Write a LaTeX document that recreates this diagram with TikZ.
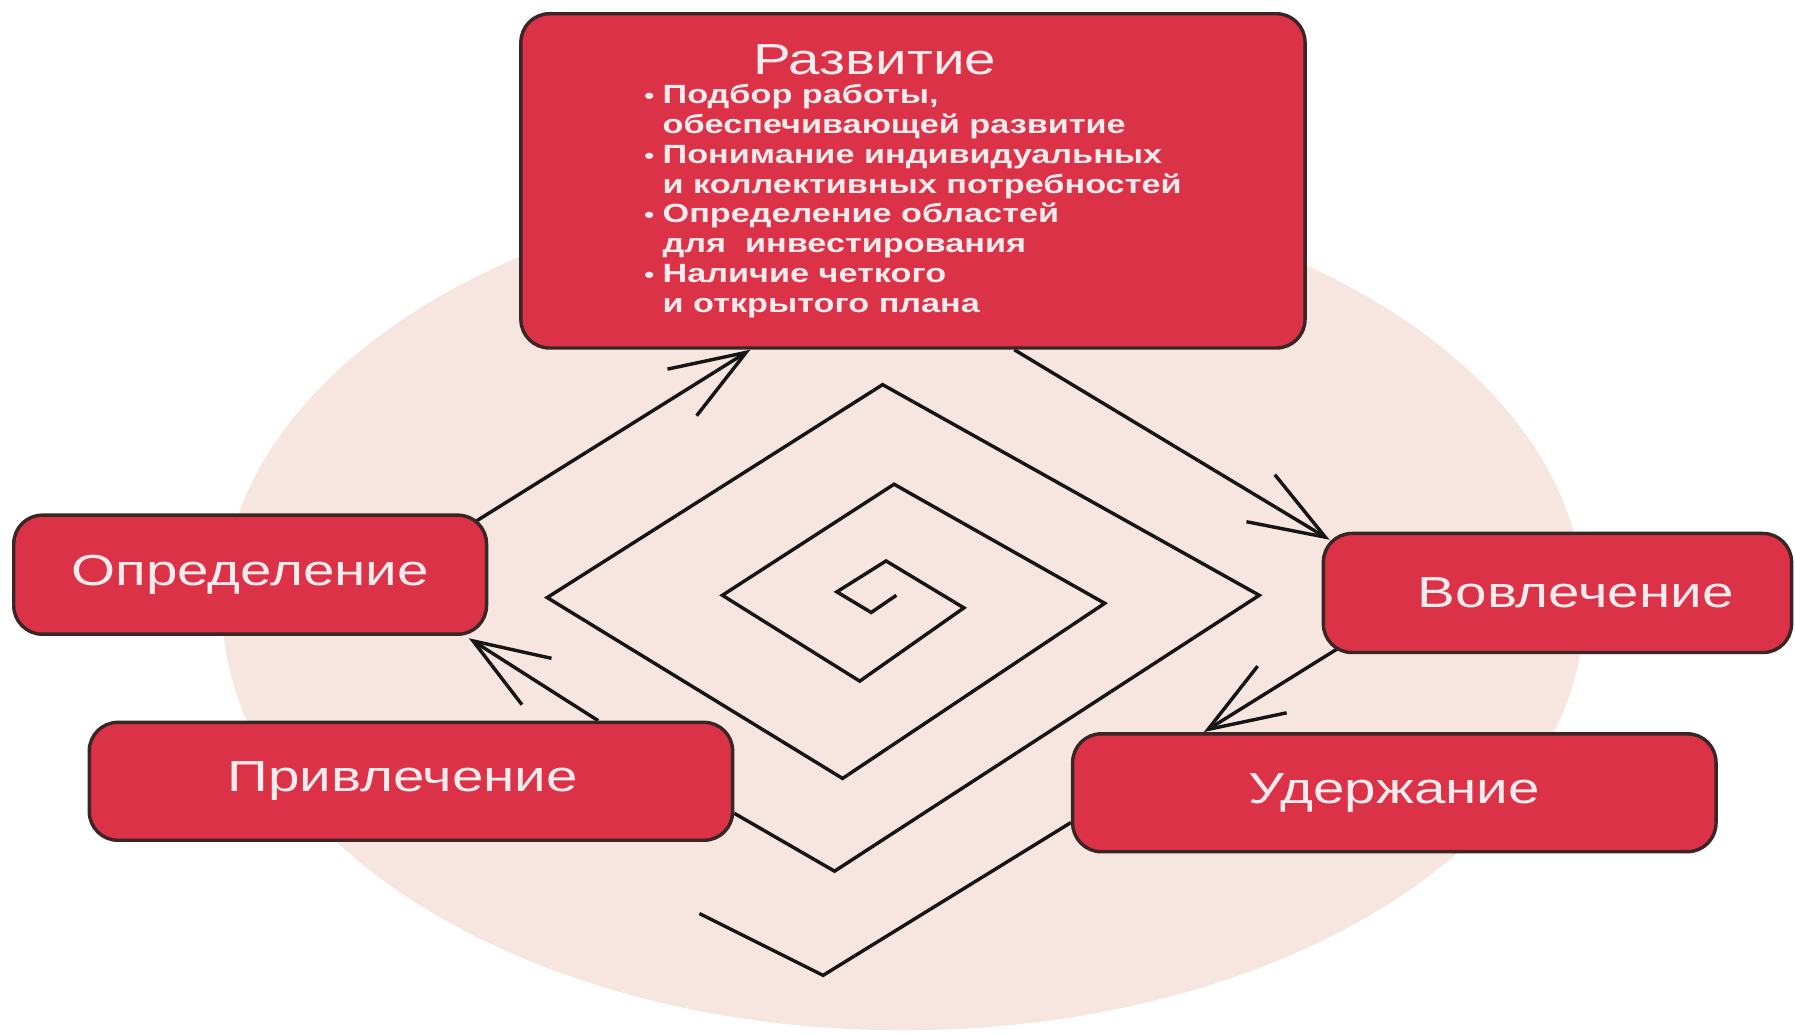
\documentclass[tikz,border=0pt]{standalone}
\usepackage{fontspec}
\setmainfont[FakeStretch = 1.3]{Liberation Sans}
\usetikzlibrary{arrows.meta}
\definecolor{boxred}{HTML}{DB3248}
\definecolor{boxline}{HTML}{3B2626}
\definecolor{boxtext}{HTML}{FCEBEC}
\definecolor{bgpink}{HTML}{F7E6E0}
\definecolor{linecol}{HTML}{151515}
\pgfdeclarelayer{back}
\pgfdeclarelayer{lines}
\pgfsetlayers{back,lines,main}
\tikzset{
	stage/.style = {draw = boxline, line width = 3pt, fill = boxred, rounded corners = 25pt, text = boxtext, font = \fontsize{38}{42}\selectfont, inner sep = 0pt},
	spiral/.style = {draw = linecol, line width = 3pt, line join = miter},
	flow/.style = {spiral, -{Straight Barb[length = 66pt, width = 48pt]}}
}
\newcommand{\itm}{\makebox[16pt][l]{\fontsize{19}{19}\selectfont •}}

\begin{document}
\begin{tikzpicture}[x = 1pt, y = -1pt]
	\begin{pgfonlayer}{back}
		\fill[white] (0,0) rectangle (1568,904);
		\fill[bgpink] (789,530) ellipse [x radius = 595, y radius = 370];
	\end{pgfonlayer}
	\useasboundingbox (0,0) rectangle (1568,904);

	\node[stage, minimum width = 685pt, minimum height = 292pt, align = left, font = \fontsize{23}{26}\selectfont\bfseries] (razv) at (797.5,158)
		{{\fontsize{38}{42}\mdseries\selectfont\hspace*{95pt}Развитие}\\
		\itm Подбор работы,\\
		\hspace*{16pt}обеспечивающей развитие\\
		\itm Понимание индивидуальных\\
		\hspace*{16pt}и коллективных потребностей\\
		\itm Определение областей\\
		\hspace*{16pt}для\ \ инвестирования\\
		\itm Наличие четкого\\
		\hspace*{16pt}и открытого плана};
	\node[stage, minimum width = 413pt, minimum height = 104pt] (opred) at (218.5,502) {Определение};
	\node[stage, minimum width = 562pt, minimum height = 103pt] (privl) at (359,682.5) {Привлечение\hspace*{14pt}};
	\node[stage, minimum width = 409pt, minimum height = 104pt] (vovl) at (1360.5,518) {\hspace*{32pt}Вовлечение};
	\node[stage, minimum width = 562pt, minimum height = 103pt] (uderzh) at (1218,692.5) {Удержание};

	\begin{pgfonlayer}{lines}
		\draw[spiral] ([yshift = 25pt]privl.south east) -- (729,761) -- (1100,520) -- (771,336) -- (478,522)
			-- (736,680) -- (965,527) -- (781,423) -- (631,520) -- (751,595) -- (842,531)
			-- (774,490) -- (731,517) -- (761,535) -- (783,520);
		\draw[flow] ([xshift = -119pt]privl.north east) -- ([xshift = -17pt, yshift = -2pt]opred.south east);
		\draw[flow] ([xshift = -19pt, yshift = -12pt]opred.north east) -- ([xshift = 202pt]razv.south west);
		\draw[flow] ([xshift = 88.5pt]razv.south) -- ([xshift = 7pt, yshift = -7pt]vovl.north west);
		\draw[flow] ([xshift = 19pt, yshift = 8pt]vovl.south west) -- ([xshift = 116pt]uderzh.north west);
		\draw[spiral] ([yshift = 27pt]uderzh.south west) -- (719,852) -- (611,798);
	\end{pgfonlayer}
\end{tikzpicture}
\end{document}
